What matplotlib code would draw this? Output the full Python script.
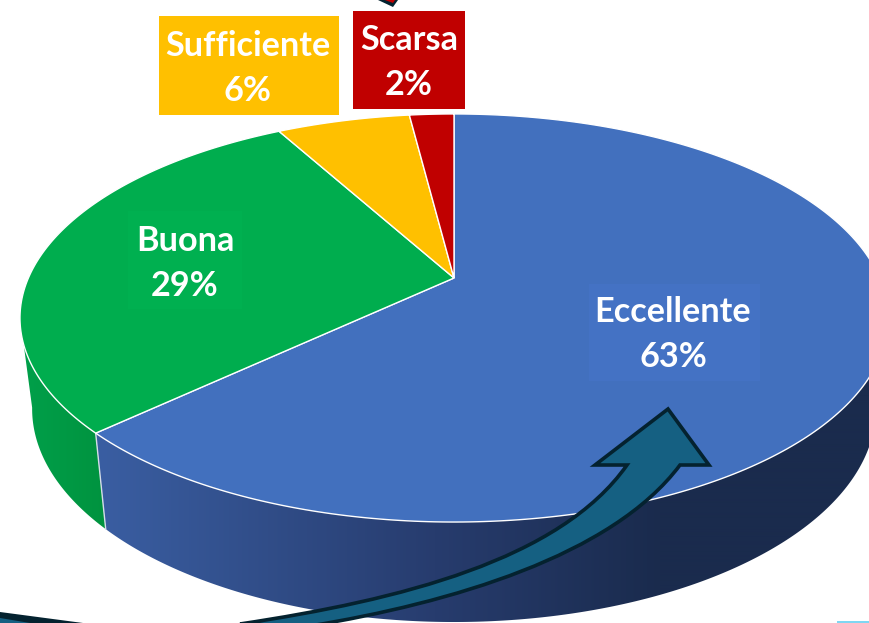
import numpy as np
import matplotlib
matplotlib.use("Agg")
import matplotlib.pyplot as plt
from matplotlib.patches import PathPatch, Polygon, Rectangle
from matplotlib.path import Path

# data
categories = ["Eccellente", "Buona", "Sufficiente", "Scarsa"]
values = [63, 29, 6, 2]
percent_labels = ["63%", "29%", "6%", "2%"]

face_colors = ["#4270be", "#00ad4e", "#ffc000", "#c00000"]
panel_colors = ["#4472c4", "#00b050", "#ffc000", "#c00000"]
# label panels: x0, y0, x1, y1
panels = [(589, 284, 760, 381), (128, 211, 242, 309), (159, 16, 339, 115), (353, 11, 465, 109)]

plt.rcParams["font.family"] = ["Lato", "DejaVu Sans"]

CX, CY = 454.0, 278.0
K, D, S = 0.196, 196.2, 425.6
W, H = 870, 623


def project(theta, scale_x=1.0, scale_y=1.0, cy=CY):
    # theta: clockwise from the top of the disc, perspective onto the page
    x = np.sin(theta)
    y = np.cos(theta)
    w = 1 + K * y
    return CX + scale_x * S * x / w, cy - scale_y * D * y / w


def bottom(theta):
    return project(theta, 0.972, 1.045, 367.0)


def wall(ax, t0, t1, stops_x, stops_rgb):
    # horizontal gradient clipped to the side wall, the top face hides the rest
    xs = np.arange(W)
    rgb = np.array([np.interp(xs, stops_x, [c[i] for c in stops_rgb]) for i in range(3)]).T / 255
    img = np.repeat(rgb[np.newaxis, :, :], 2, axis=0)
    im = ax.imshow(img, extent=[0, W, H, 0], aspect="auto", interpolation="bilinear", zorder=1)
    th = np.linspace(t0, t1, 400)
    bx, by = bottom(th)
    tx, ty = project(np.array([t1, t0]))
    pts = np.column_stack([np.r_[bx, tx[0], CX, tx[1]], np.r_[by, ty[0], CY, ty[1]]])
    clip = Polygon(pts, closed=True, transform=ax.transData)
    im.set_clip_path(clip)


fig = plt.figure(figsize=(8.7, 6.23), dpi=100)
ax = fig.add_axes([0, 0, 1, 1])

# slice angles
edges = np.cumsum([0] + values) / sum(values) * 2 * np.pi

wall(ax, np.radians(50), edges[1], [100, 435, 660], [(0x3a, 0x5e, 0xa2), (0x27, 0x3c, 0x6e), (0x1a, 0x2b, 0x4d)])
wall(ax, edges[1], np.radians(259), [20, 105], [(0x00, 0xa0, 0x4a), (0x00, 0x93, 0x3f)])

ax.set_xlim(0, W)
ax.set_ylim(H, 0)
ax.axis("off")

# boundary between blue and green on the wall
x0, y0 = project(edges[1])
x1, y1 = bottom(edges[1])
ax.plot([x0, x1], [y0, y1], color="#d5dde8", lw=1.0, zorder=2)

# top face
for i in range(len(values)):
    th = np.linspace(edges[i], edges[i + 1], 300)
    xs, ys = project(th)
    pts = np.column_stack([np.r_[CX, xs], np.r_[CY, ys]])
    ax.add_patch(Polygon(pts, closed=True, facecolor=face_colors[i], edgecolor="white", lw=1.0, zorder=3))

# labels
label_pos = [(673, 335), (185, 264), (248, 69), (409, 63)]
for i in range(len(categories)):
    px0, py0, px1, py1 = panels[i]
    ax.add_patch(Rectangle((px0, py0), px1 - px0, py1 - py0, facecolor=panel_colors[i], edgecolor="none", zorder=4))
    lx, ly = label_pos[i]
    ax.text(lx, ly - 23, categories[i], color="white", fontsize=24.7, fontweight="bold", ha="center", va="center", zorder=6)
    ax.text(lx, ly + 22, percent_labels[i], color="white", fontsize=24.7, fontweight="bold", ha="center", va="center", zorder=6)

# curved arrow
arrow_verts = [
    (240, 624), (400, 600), (560, 560), (627, 465),
    (595, 465), (668, 409), (709, 465), (680, 465),
    (612, 556), (450, 603), (310, 626), (240, 624),
]
arrow_codes = [
    Path.MOVETO, Path.CURVE4, Path.CURVE4, Path.CURVE4,
    Path.LINETO, Path.LINETO, Path.LINETO, Path.LINETO,
    Path.CURVE4, Path.CURVE4, Path.CURVE4, Path.CLOSEPOLY,
]
ax.add_patch(PathPatch(Path(arrow_verts, arrow_codes), facecolor="#156082", edgecolor="#04222f", lw=2.6, joinstyle="miter", zorder=5))

# arrow tail at the bottom left and the tip of the other arrow at the top
ax.add_patch(Polygon([(0, 612), (83, 623), (0, 623)], closed=True, facecolor="#04222f", edgecolor="none", zorder=5))
ax.add_patch(Polygon([(0, 618), (30, 623), (0, 623)], closed=True, facecolor="#156082", edgecolor="none", zorder=6))
ax.add_patch(Polygon([(378, 0), (393, 7), (398, 0)], closed=True, facecolor="#04222f", edgecolor="none", zorder=5))
ax.add_patch(Polygon([(385, 0), (393, 3), (395, 0)], closed=True, facecolor="#c00000", edgecolor="none", zorder=6))

# light blue strip in the corner
ax.add_patch(Rectangle((837, 620.5), 33, 2.5, facecolor="#7fd6f2", edgecolor="none", zorder=5))

fig.savefig("out.png", dpi=100, facecolor="white")
